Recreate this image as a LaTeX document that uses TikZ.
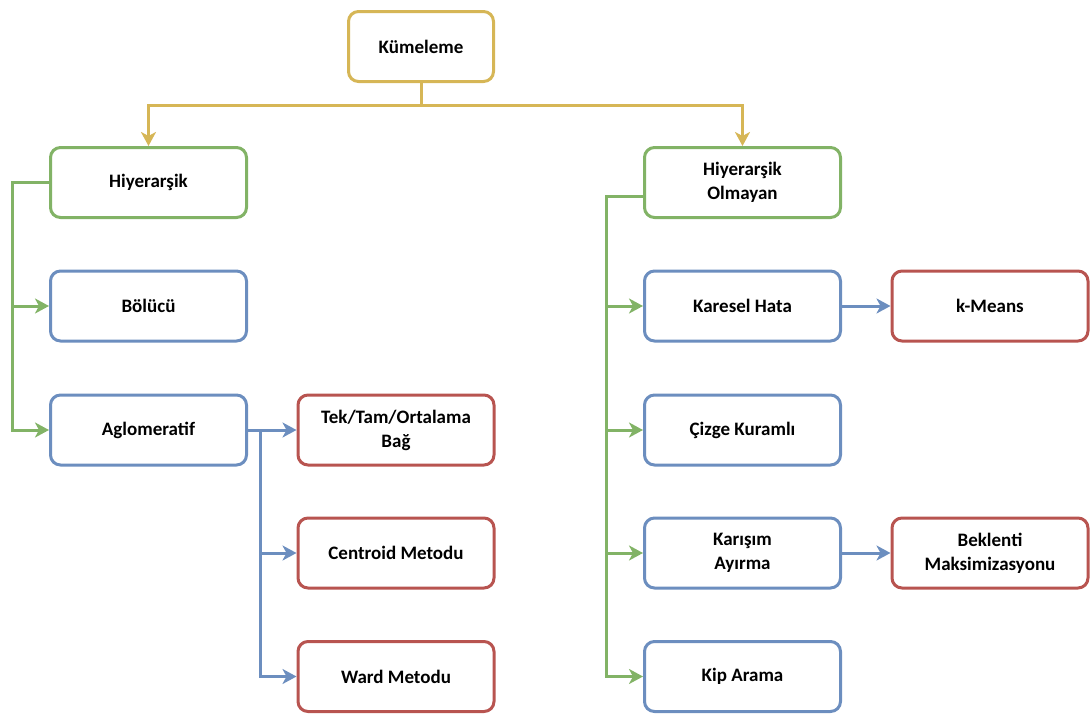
\documentclass[tikz,border=0pt]{standalone}
\usepackage{fontspec}
\setmainfont{Carlito}
\usetikzlibrary{arrows.meta,positioning}

\definecolor{kyellow}{HTML}{D6B656}
\definecolor{kgreen}{HTML}{82B366}
\definecolor{kblue}{HTML}{6C8EBF}
\definecolor{kred}{HTML}{B85450}

\tikzset{
    box/.style={draw, fill=white, rounded corners=10pt, line width=3pt,
        minimum width=196pt, minimum height=70pt, align=center,
        font=\fontsize{19}{24}\selectfont\bfseries},
    link/.style={line width=3pt, -{Stealth[length=14pt,width=15pt,inset=4pt]}},
}

\begin{document}
\begin{tikzpicture}[x=1pt,y=1pt]
    \useasboundingbox (0,0) rectangle (1090,-715);

    \node[box, draw=kyellow, minimum width=145pt] (kume) at (421,-46.5) {Kümeleme};

    \node[box, draw=kgreen] (hiy)  at (148.5,-182.5) {Hiyerarşik};
    \node[box, draw=kgreen] (hiyo) at (742.5,-182.5) {Hiyerarşik\\Olmayan};

    \node[box, draw=kblue] (bolucu) at (148.5,-306)   {Bölücü};
    \node[box, draw=kblue] (aglo)   at (148.5,-430)   {Aglomeratif};
    \node[box, draw=kred]  (tek)    at (396,-430)     {Tek/Tam/Ortalama\\Bağ};
    \node[box, draw=kred]  (centr)  at (396,-553)     {Centroid Metodu};
    \node[box, draw=kred]  (ward)   at (396,-676.5)   {Ward Metodu};

    \node[box, draw=kblue] (karesel) at (742.5,-306)  {Karesel Hata};
    \node[box, draw=kred]  (kmeans)  at (990,-306)    {k-Means};
    \node[box, draw=kblue] (cizge)   at (742.5,-430)  {Çizge Kuramlı};
    \node[box, draw=kblue] (karisim) at (742.5,-553)  {Karışım\\Ayırma};
    \node[box, draw=kred]  (beklenti) at (990,-553)   {Beklenti\\Maksimizasyonu};
    \node[box, draw=kblue] (kip)     at (742.5,-676.5) {Kip Arama};

    % ust seviye
    \draw[link, kyellow] (kume.south) -- ++(0,-22) -| (hiy.north);
    \draw[link, kyellow] (kume.south) -- ++(0,-22) -| (hiyo.north);

    % hiyerarsik
    \draw[link, kgreen] (hiy.west) -- ++(-37,0) |- (bolucu.west);
    \draw[link, kgreen] (hiy.west) -- ++(-37,0) |- (aglo.west);
    \draw[link, kblue] (aglo.east) -- ++(12,0) |- (tek.west);
    \draw[link, kblue] (aglo.east) -- ++(12,0) |- (centr.west);
    \draw[link, kblue] (aglo.east) -- ++(12,0) |- (ward.west);

    % hiyerarsik olmayan
    \coordinate (hiyo-out) at ([yshift=-14pt]hiyo.west);
    \draw[link, kgreen] (hiyo-out) -- ++(-37,0) |- (karesel.west);
    \draw[link, kgreen] (hiyo-out) -- ++(-37,0) |- (cizge.west);
    \draw[link, kgreen] (hiyo-out) -- ++(-37,0) |- (karisim.west);
    \draw[link, kgreen] (hiyo-out) -- ++(-37,0) |- (kip.west);
    \draw[link, kblue] (karesel) -- (kmeans);
    \draw[link, kblue] (karisim) -- (beklenti);
\end{tikzpicture}
\end{document}
